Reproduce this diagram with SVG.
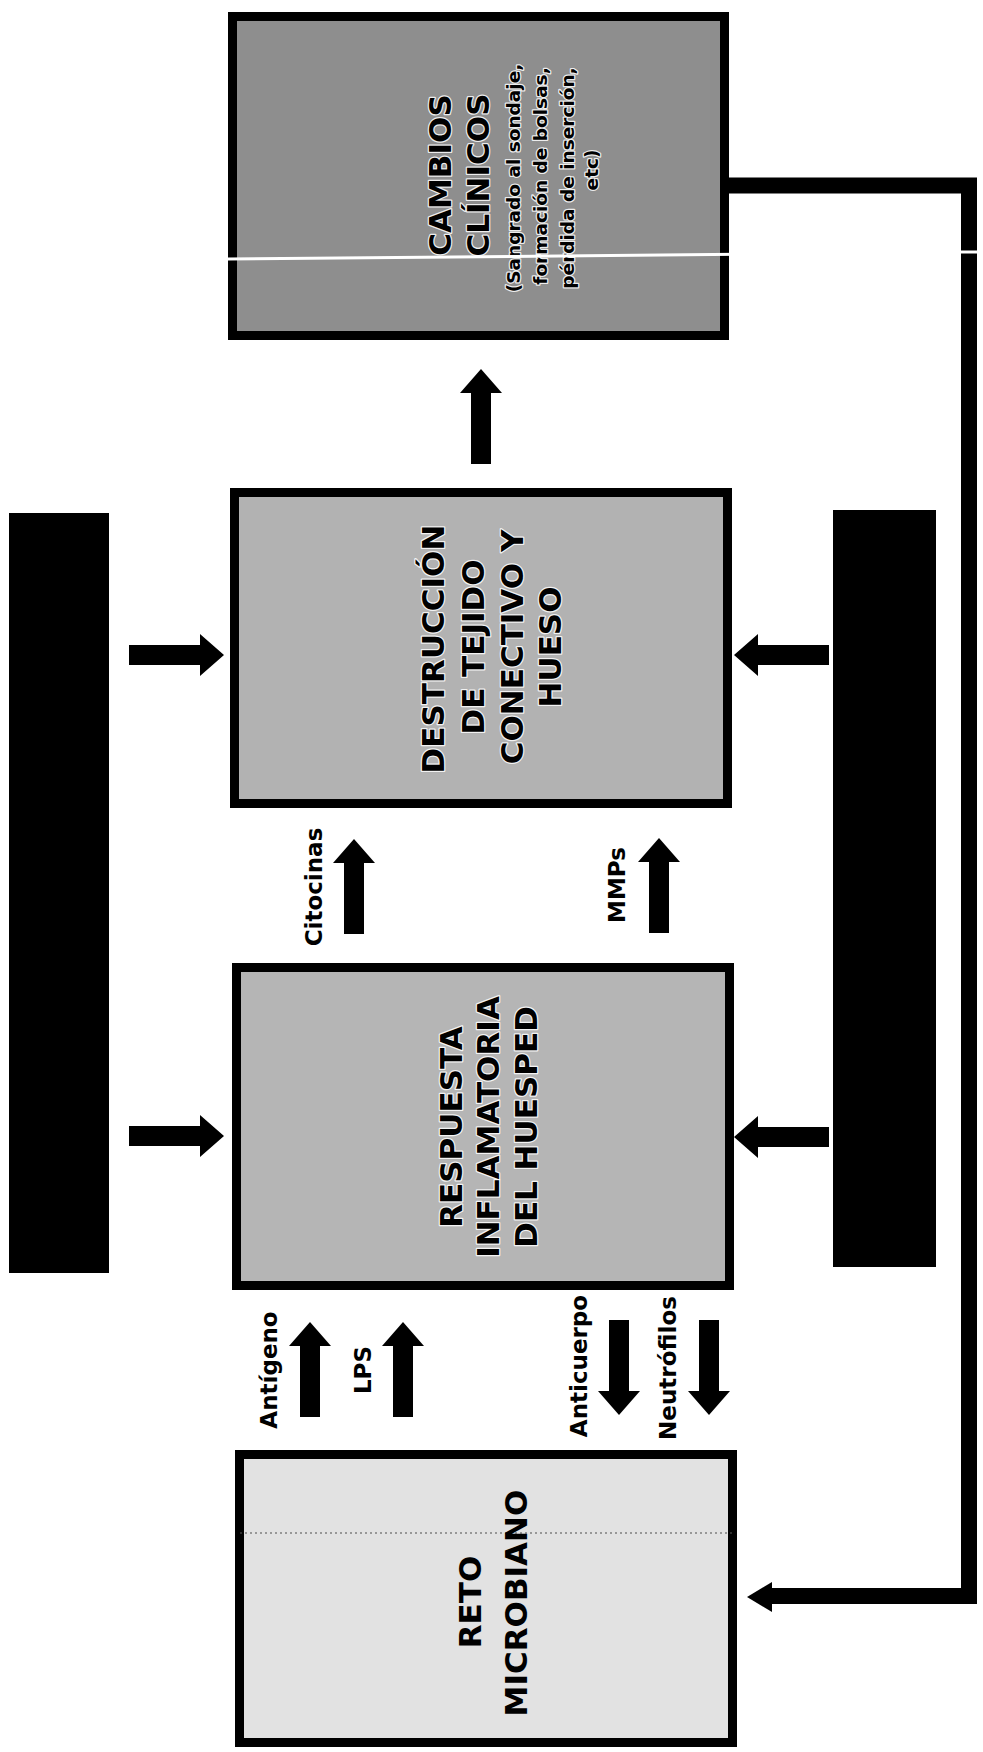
<svg xmlns="http://www.w3.org/2000/svg" xmlns:xlink="http://www.w3.org/1999/xlink" width="983" height="1752" viewBox="0 0 983 1752">
<style>
.box{stroke:#000;stroke-width:9}
.bar{fill:#000}
.t{font-family:"DejaVu Sans","Verdana",sans-serif;font-weight:bold;fill:#000;text-anchor:middle;dominant-baseline:central}
.big{font-size:31px}
.halo{stroke:#fff;stroke-width:2.5;stroke-linejoin:round;paint-order:stroke;stroke-opacity:0.85}
.sm{font-size:18.5px}
.lbl{font-size:23px}
</style>
<defs>
<path id="blk" d="M0 0 L21 24 L10 24 L10 95 L-10 95 L-10 24 L-21 24 Z" fill="#000"/>
</defs>
<rect width="983" height="1752" fill="#fff"/>

<g id="cambios">
<rect class="box" x="232.5" y="16.5" width="492" height="319" fill="#8e8e8e"/>
<text class="t big halo" transform="translate(440,175) rotate(-90)">CAMBIOS</text>
<text class="t big halo" transform="translate(478,175) rotate(-90)">CLÍNICOS</text>
<text class="t sm halo" transform="translate(513,178) rotate(-90)">(Sangrado al sondaje,</text>
<text class="t sm halo" transform="translate(540,176) rotate(-90)">formación de bolsas,</text>
<text class="t sm halo" transform="translate(567,178) rotate(-90)">pérdida de inserción,</text>
<text class="t sm halo" transform="translate(591,170) rotate(-90)">etc)</text>
<line x1="228" y1="259" x2="981" y2="252" stroke="#fff" stroke-width="3"/>
</g>

<g id="destruccion">
<rect class="box" x="234.5" y="492.5" width="493" height="311" fill="#b2b2b2"/>
<text class="t big halo" transform="translate(433,649) rotate(-90)">DESTRUCCIÓN</text>
<text class="t big halo" transform="translate(473,647) rotate(-90)">DE TEJIDO</text>
<text class="t big halo" transform="translate(512,647) rotate(-90)">CONECTIVO Y</text>
<text class="t big halo" transform="translate(550,647) rotate(-90)">HUESO</text>
</g>

<g id="respuesta">
<rect class="box" x="236.5" y="967.5" width="493" height="318" fill="#b5b5b5"/>
<text class="t big halo" transform="translate(451,1127) rotate(-90)">RESPUESTA</text>
<text class="t big halo" transform="translate(488,1127) rotate(-90)">INFLAMATORIA</text>
<text class="t big halo" transform="translate(526,1127) rotate(-90)">DEL HUESPED</text>
</g>

<g id="reto">
<rect class="box" x="239.5" y="1454.5" width="493" height="288" fill="#e2e2e2"/>
<line x1="240" y1="1533" x2="732" y2="1533" stroke="#555" stroke-width="1.5" stroke-dasharray="2 3" opacity="0.7"/>
<text class="t big" transform="translate(470,1602) rotate(-90)">RETO</text>
<text class="t big" transform="translate(516,1603) rotate(-90)">MICROBIANO</text>
</g>

<g id="factores-izq">
<rect class="bar" x="9" y="513" width="100" height="760"/>
</g>
<g id="factores-der">
<rect class="bar" x="833" y="510" width="103" height="757"/>
</g>

<g id="connectors">
<use xlink:href="#blk" href="#blk" transform="translate(481,369)"/>
<use xlink:href="#blk" href="#blk" transform="translate(354,839)"/>
<use xlink:href="#blk" href="#blk" transform="translate(659,838)"/>
<use xlink:href="#blk" href="#blk" transform="translate(224,655) rotate(90)"/>
<use xlink:href="#blk" href="#blk" transform="translate(224,1136) rotate(90)"/>
<use xlink:href="#blk" href="#blk" transform="translate(734,655) rotate(-90)"/>
<use xlink:href="#blk" href="#blk" transform="translate(734,1137) rotate(-90)"/>
<use xlink:href="#blk" href="#blk" transform="translate(310,1322)"/>
<use xlink:href="#blk" href="#blk" transform="translate(403,1322)"/>
<use xlink:href="#blk" href="#blk" transform="translate(619,1415) rotate(180)"/>
<use xlink:href="#blk" href="#blk" transform="translate(709,1415) rotate(180)"/>
<path d="M729 185.5 H969 V1596 H770" fill="none" stroke="#000" stroke-width="16"/>
<polygon points="747,1597 772,1582 772,1612" fill="#000"/>
<line x1="955" y1="252" x2="983" y2="252" stroke="#fff" stroke-width="3"/>
</g>

<g id="labels">
<text class="t lbl" transform="translate(314,887) rotate(-90)">Citocinas</text>
<text class="t lbl" transform="translate(617,885) rotate(-90)">MMPs</text>
<text class="t lbl" transform="translate(269,1370) rotate(-90)">Antígeno</text>
<text class="t lbl" transform="translate(363,1370) rotate(-90)">LPS</text>
<text class="t lbl" transform="translate(579,1366) rotate(-90)">Anticuerpo</text>
<text class="t lbl" transform="translate(668,1368) rotate(-90)">Neutrófilos</text>
</g>
</svg>
